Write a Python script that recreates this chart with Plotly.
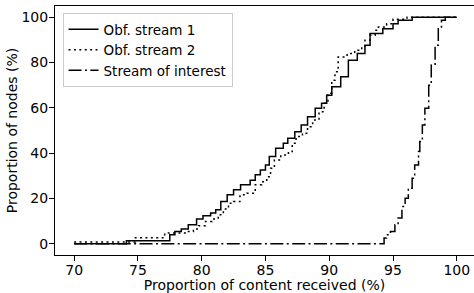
import plotly.graph_objects as go

# Obf. stream 1 (solid) - step points (x, proportion after step)
x1 = [70, 74.1, 77.5, 77.9, 78.4, 78.95, 79.6, 80.1, 80.7, 81.1, 81.5, 82.0, 82.5, 83.05,
      83.8, 84.2, 84.6, 85.0, 85.3, 85.8, 86.4, 86.75, 87.3, 87.8, 88.3, 88.9, 89.4, 89.8,
      90.2, 90.9, 91.5, 92.2, 92.8, 93.2, 94.2, 95.0, 95.4, 96.5, 100]
y1 = [0, 1.3, 3.9, 5.4, 6.5, 8.4, 10.9, 12.3, 13.5, 15.0, 18.6, 21.6, 23.8, 26.0,
      28.0, 30.5, 32.6, 34.8, 38.5, 42.2, 44.4, 46.6, 49.5, 52.4, 56.1, 59.8, 62.0, 65.6,
      69.3, 73.7, 81.0, 84.0, 87.7, 92.8, 95.0, 97.2, 98.7, 100, 100]

# Obf. stream 2 (dotted)
x2 = [70, 74.8, 77.1, 78.7, 79.35, 79.75, 80.3, 80.8, 81.3, 81.7, 82.1, 82.5, 83.0, 83.55,
      84.2, 84.7, 85.1, 85.4, 85.7, 86.2, 86.8, 87.1, 87.4, 87.9, 88.3, 88.7, 89.2, 89.6,
      89.9, 90.2, 90.45, 90.7, 91.4, 92.0, 92.55, 92.8, 93.2, 93.6, 93.85, 94.5, 95.0, 96.1, 100]
y2 = [0.7, 2.6, 4.7, 5.4, 6.5, 7.9, 9.8, 10.9, 12.8, 15.3, 17.9, 18.6, 21.6, 22.3,
      26.0, 27.4, 29.6, 33.3, 37.0, 39.2, 40.7, 44.4, 47.3, 48.8, 51.7, 54.6, 58.3, 62.0,
      66.5, 72.2, 75.9, 82.5, 84.0, 85.5, 86.9, 89.9, 92.1, 94.3, 95.7, 97.2, 99.1, 100, 100]

# Stream of interest (dash-dot)
x3 = [70, 94.3, 94.5, 94.8, 95.15, 95.4, 95.7, 95.95, 96.2, 96.5, 96.7, 97.0, 97.1, 97.3,
      97.5, 97.8, 98.0, 98.3, 98.55, 98.8, 99.1, 100]
y3 = [0, 2.5, 4.0, 5.4, 8.4, 11.3, 16.4, 20.1, 24.5, 28.9, 34.8, 40.7, 45.1, 52.4,
      59.8, 70.0, 78.9, 87.7, 95.0, 98.7, 100, 100]

names = ["Obf. stream 1", "Obf. stream 2", "Stream of interest"]
xticks = [70, 75, 80, 85, 90, 95, 100]
yticks = [0, 20, 40, 60, 80, 100]

FONT = "DejaVu Sans"
FS = 14

fig = go.Figure()
fig.add_trace(go.Scatter(x=x1, y=y1, mode="lines", name=names[0], line_shape="hv",
                         line=dict(color="black", width=1.5)))
fig.add_trace(go.Scatter(x=x2, y=y2, mode="lines", name=names[1], line_shape="hv",
                         line=dict(color="black", width=1.5, dash="2px,3.4px")))
fig.add_trace(go.Scatter(x=x3, y=y3, mode="lines", name=names[2], line_shape="hv",
                         line=dict(color="black", width=1.5, dash="13px,3.4px,2px,3.4px")))

fig.update_layout(
    width=474, height=293,
    margin=dict(l=55, r=0, t=6, b=38, pad=0, autoexpand=False),
    paper_bgcolor="white", plot_bgcolor="white",
    font=dict(family=FONT, size=FS, color="black"),
    showlegend=True,
    legend=dict(x=0.018, y=0.972, xanchor="left", yanchor="top",
                bgcolor="white", bordercolor="#cccccc", borderwidth=1,
                font=dict(family=FONT, size=13.5, color="black"),
                itemwidth=30, tracegroupgap=0),
)
fig.update_xaxes(
    range=[68.5, 101.35], tickvals=xticks, ticktext=[str(v) for v in xticks],
    showgrid=False, zeroline=False, showline=True, linecolor="black", linewidth=1.1,
    mirror=True, ticks="outside", ticklen=5, tickcolor="black", tickwidth=1.1,
    automargin=False, ticklabelstandoff=-3,
    title=dict(text="Proportion of content received (%)", standoff=0,
               font=dict(family=FONT, size=FS)),
    tickfont=dict(family=FONT, size=FS),
)
fig.update_yaxes(
    range=[-5, 105], tickvals=yticks, ticktext=[str(v) for v in yticks],
    showgrid=False, zeroline=False, showline=True, linecolor="black", linewidth=1.1,
    mirror=False, ticks="outside", ticklen=5, tickcolor="black", tickwidth=1.1,
    automargin=False, ticklabelstandoff=-2,
    title=dict(text="Proportion of nodes (%)", standoff=0,
               font=dict(family=FONT, size=FS)),
    tickfont=dict(family=FONT, size=FS),
)

fig.write_html("out.html", config={"displayModeBar": False},
               post_script="document.body.style.margin='0px';document.body.style.padding='0px';")
